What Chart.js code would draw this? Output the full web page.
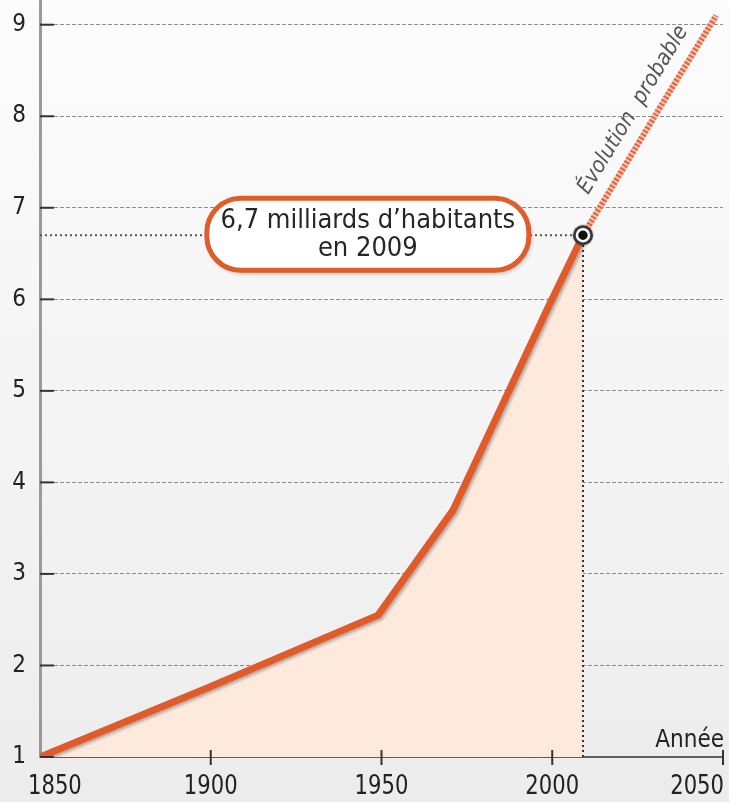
<!DOCTYPE html>
<html lang="fr">
<head>
<meta charset="utf-8">
<script src="https://cdn.jsdelivr.net/npm/chart.js@4.4.1/dist/chart.umd.min.js"></script>
<style>
  html, body { margin: 0; padding: 0; }
  body { width: 729px; height: 802px; background: linear-gradient(180deg, #fcfcfc 0%, #f3f3f3 60%, #ececec 100%); }
  canvas { display: block; }
</style>
</head>
<body>
<canvas id="chart" width="729" height="802"></canvas>
<script>
// Population mondiale (milliards)
const annees = [1850, 1900, 1949, 1971, 1999, 2009];
const population = [1.0, 1.77, 2.55, 3.7, 5.93, 6.7];
const anneesProjection = [2009, 2030, 2048];
const populationProjection = [6.7, 8.0, 9.1];
const ticksX = [1850, 1900, 1950, 2000, 2050];
const ticksY = [1, 2, 3, 4, 5, 6, 7, 8, 9];
const anneeRef = 2009;
const valeurRef = 6.7;
const texteBulle = ['6,7 milliards d\u2019habitants', 'en 2009'];

const FONT = '"DejaVu Sans Condensed", "Open Sans", sans-serif';
const pts = (xs, ys) => xs.map((x, i) => ({ x: x, y: ys[i] }));

const decor = {
    id: 'decor',
    beforeDatasetDraw(chart, args) {
        if (args.index === 4) {
            const ctx = chart.ctx;
            ctx.save();
            ctx.shadowColor = 'rgba(0,0,0,0.28)';
            ctx.shadowBlur = 3;
            ctx.shadowOffsetX = 2;
            ctx.shadowOffsetY = 2;
        }
    },
    afterDatasetDraw(chart, args) {
        if (args.index === 4) chart.ctx.restore();
    },
    afterDraw(chart) {
        const ctx = chart.ctx, x = chart.scales.x, y = chart.scales.y, a = chart.chartArea;
        ctx.save();
        // petits traits de graduation
        ctx.strokeStyle = '#333';
        ctx.lineWidth = 2;
        ticksY.forEach(v => {
            const py = y.getPixelForValue(v);
            ctx.beginPath(); ctx.moveTo(a.left, py); ctx.lineTo(a.left + 14, py); ctx.stroke();
        });
        ticksX.slice(1).forEach(v => {
            const px = x.getPixelForValue(v);
            ctx.beginPath(); ctx.moveTo(px, a.bottom - 7); ctx.lineTo(px, a.bottom + 8); ctx.stroke();
        });

        // étiquettes de l'axe des années (un peu condensées)
        ctx.fillStyle = '#222';
        ctx.font = '27px ' + FONT;
        ctx.textAlign = 'center';
        ctx.textBaseline = 'middle';
        const sx = 0.87;
        ticksX.forEach(v => {
            const txt = String(v);
            const w = ctx.measureText(txt).width * sx;
            let cx = x.getPixelForValue(v);
            if (cx - w / 2 < 28) cx = 28 + w / 2;
            if (cx + w / 2 > 724) cx = 724 - w / 2;
            ctx.save();
            ctx.translate(cx, a.bottom + 30);
            ctx.scale(sx, 1);
            ctx.fillText(txt, 0, 0);
            ctx.restore();
        });

        // Année
        ctx.font = '24px ' + FONT;
        ctx.textAlign = 'right';
        ctx.textBaseline = 'alphabetic';
        ctx.fillText('Année', 724, a.bottom - 10);

        // Évolution probable
        const x0 = x.getPixelForValue(anneesProjection[0]), y0 = y.getPixelForValue(populationProjection[0]);
        const x1 = x.getPixelForValue(anneesProjection[2]), y1 = y.getPixelForValue(populationProjection[2]);
        const ang = Math.atan2(y1 - y0, x1 - x0);
        ctx.save();
        ctx.translate(x.getPixelForValue(2029), y.getPixelForValue(7.95));
        ctx.rotate(ang);
        ctx.font = 'italic 22px ' + FONT;
        ctx.fillStyle = '#555';
        ctx.textAlign = 'center';
        ctx.textBaseline = 'bottom';
        ctx.fillText('\u00c9volution  probable', 0, -10);
        ctx.restore();

        // bulle
        const cx = x.getPixelForValue(1946), cy = y.getPixelForValue(6.71);
        const w = 322, h = 72, r = 34;
        ctx.save();
        ctx.shadowColor = 'rgba(0,0,0,0.3)';
        ctx.shadowBlur = 5;
        ctx.shadowOffsetX = 2;
        ctx.shadowOffsetY = 3;
        ctx.beginPath();
        ctx.roundRect(cx - w / 2, cy - h / 2, w, h, r);
        ctx.fillStyle = '#fff';
        ctx.fill();
        ctx.restore();
        ctx.beginPath();
        ctx.roundRect(cx - w / 2, cy - h / 2, w, h, r);
        ctx.lineWidth = 5;
        ctx.strokeStyle = '#df5d2b';
        ctx.stroke();
        ctx.fillStyle = '#262626';
        ctx.font = '27px ' + FONT;
        ctx.textAlign = 'center';
        ctx.textBaseline = 'middle';
        ctx.fillText(texteBulle[0], cx, cy - 13);
        ctx.fillText(texteBulle[1], cx, cy + 15);
        ctx.restore();
    }
};

new Chart(document.getElementById('chart').getContext('2d'), {
    type: 'line',
    data: {
        datasets: [
            // point 2009 (intérieur)
            { data: [{ x: anneeRef, y: valeurRef }], showLine: false, pointRadius: 6, pointBackgroundColor: '#111', pointBorderColor: '#fff', pointBorderWidth: 2.5, clip: false },
            // point 2009 (anneau)
            { data: [{ x: anneeRef, y: valeurRef }], showLine: false, pointRadius: 10, pointBackgroundColor: '#3a3a3a', pointBorderColor: 'rgba(0,0,0,0.15)', pointBorderWidth: 2, clip: false },
            // repère horizontal
            { data: [{ x: 1850, y: valeurRef }, { x: anneeRef, y: valeurRef }], borderColor: '#555', borderWidth: 2, borderDash: [2, 3], pointRadius: 0 },
            // repère vertical
            { data: [{ x: anneeRef, y: 1 }, { x: anneeRef, y: valeurRef }], borderColor: '#333', borderWidth: 2, borderDash: [2, 3], pointRadius: 0 },
            // courbe historique
            { data: pts(annees, population), borderColor: '#e05a2a', borderWidth: 7, fill: 'start', backgroundColor: '#fdeadd', pointRadius: 0, tension: 0, borderJoinStyle: 'round', borderCapStyle: 'round' },
            // projection pointillée
            { data: pts(anneesProjection, populationProjection), borderColor: '#e2643f', borderWidth: 6, borderDash: [2, 2], pointRadius: 0, tension: 0.25, clip: false },
            // projection fond
            { data: pts(anneesProjection, populationProjection), borderColor: '#f6c4b4', borderWidth: 6, pointRadius: 0, tension: 0.25, clip: false }
        ]
    },
    options: {
        responsive: false,
        animation: false,
        layout: { autoPadding: false, padding: { left: 0, right: 6, top: 0, bottom: 0 } },
        plugins: { legend: { display: false }, tooltip: { enabled: false } },
        scales: {
            x: {
                type: 'linear', min: 1850, max: 2050,
                afterBuildTicks: s => { s.ticks = ticksX.map(v => ({ value: v })); },
                afterFit: s => { s.height = 45; s.paddingLeft = 0; s.paddingRight = 0; },
                grid: { display: false },
                border: { display: true, color: '#5e5e5e', width: 2 },
                ticks: { display: false }
            },
            y: {
                type: 'linear', min: 1, max: 9.27,
                afterBuildTicks: s => { s.ticks = ticksY.map(v => ({ value: v })); },
                afterFit: s => { s.width = 40; s.paddingTop = 0; s.paddingBottom = 0; },
                grid: { color: 'rgba(70,70,70,0.6)', lineWidth: 1, drawTicks: false },
                border: { display: true, color: '#9a9a9a', width: 3, dash: [4, 2] },
                ticks: { color: '#222', font: { family: FONT, size: 24 }, padding: 14, callback: v => String(v) }
            }
        }
    },
    plugins: [decor]
});
</script>
</body>
</html>
